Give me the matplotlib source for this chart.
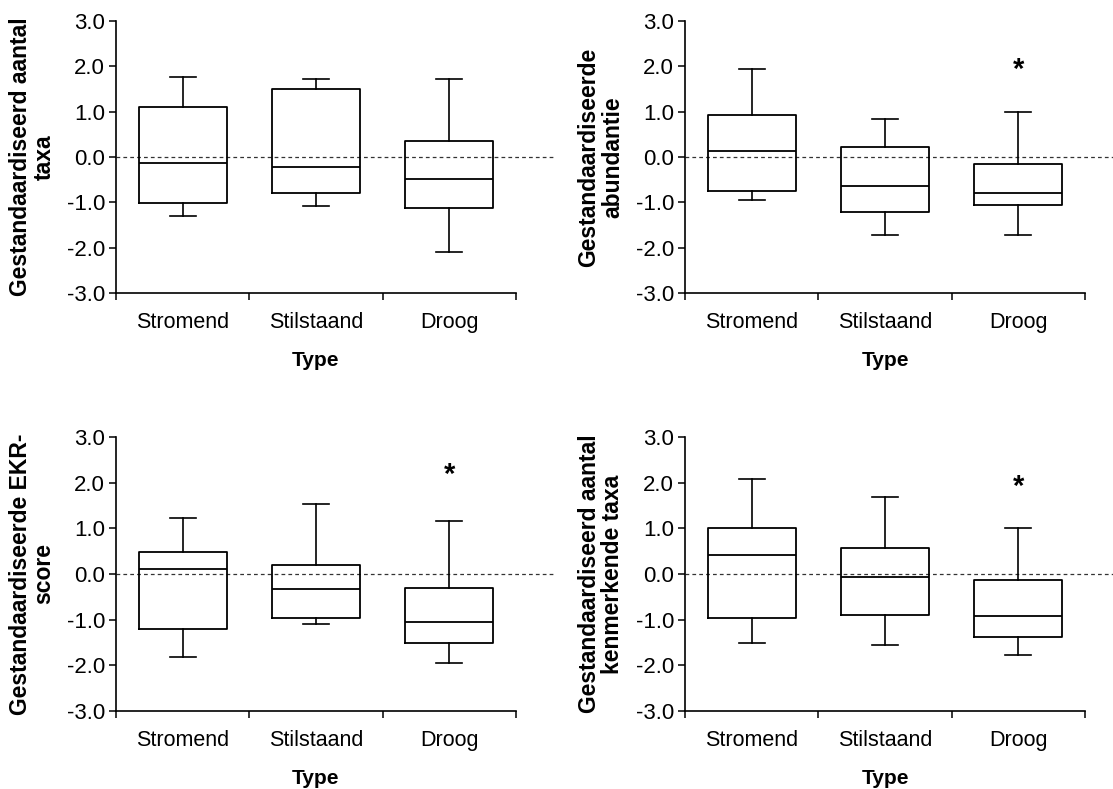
import matplotlib
matplotlib.use('Agg')
from matplotlib import pyplot as plt
from matplotlib.ticker import FixedLocator
from matplotlib.transforms import offset_copy

plt.rcParams['font.family'] = ['Liberation Sans', 'DejaVu Sans']

# Box plot values: whisker low, Q1, median, Q3, whisker high

categories = ['Stromend', 'Stilstaand', 'Droog']

taxa_low = [-1.30, -1.09, -2.09]
taxa_q1 = [-1.02, -0.80, -1.12]
taxa_med = [-0.14, -0.21, -0.48]
taxa_q3 = [1.10, 1.49, 0.36]
taxa_high = [1.77, 1.71, 1.73]

abund_low = [-0.95, -1.73, -1.72]
abund_q1 = [-0.75, -1.21, -1.06]
abund_med = [0.13, -0.64, -0.79]
abund_q3 = [0.93, 0.22, -0.15]
abund_high = [1.94, 0.84, 1.00]

ekr_low = [-1.82, -1.09, -1.94]
ekr_q1 = [-1.21, -0.96, -1.52]
ekr_med = [0.12, -0.32, -1.06]
ekr_q3 = [0.48, 0.19, -0.31]
ekr_high = [1.22, 1.54, 1.15]

kenm_low = [-1.52, -1.55, -1.78]
kenm_q1 = [-0.97, -0.89, -1.37]
kenm_med = [0.42, -0.07, -0.91]
kenm_q3 = [1.00, 0.56, -0.13]
kenm_high = [2.08, 1.68, 1.00]

yticks = [-3, -2, -1, 0, 1, 2, 3]

# significance stars (category index, y)
abund_star = (2, 2.0)
ekr_star = (2, 2.25)
kenm_star = (2, 2.0)

ylabels = ['Gestandaardiseerd aantal\ntaxa',
           'Gestandaardiseerde\nabundantie',
           'Gestandaardiseerde EKR-\nscore',
           'Gestandaardiseerd aantal\nkenmerkende taxa']

panels = [
    (taxa_low, taxa_q1, taxa_med, taxa_q3, taxa_high, None),
    (abund_low, abund_q1, abund_med, abund_q3, abund_high, abund_star),
    (ekr_low, ekr_q1, ekr_med, ekr_q3, ekr_high, ekr_star),
    (kenm_low, kenm_q1, kenm_med, kenm_q3, kenm_high, kenm_star),
]

W, H = 1113, 789
fig = plt.figure(figsize=(W / 100, H / 100), dpi=100)

# axes boxes in pixels: left, top, width, height
boxes = [(116, 21, 400, 272), (685, 21, 400, 272),
         (116, 437, 400, 274), (685, 437, 400, 274)]

for (left, top, w, h), (lo, q1, med, q3, hi, star), ylab in zip(boxes, panels, ylabels):
    ax = fig.add_axes([left / W, 1 - (top + h) / H, w / W, h / H])
    stats = []
    for i in range(len(categories)):
        stats.append({'whislo': lo[i], 'q1': q1[i], 'med': med[i],
                      'q3': q3[i], 'whishi': hi[i], 'fliers': []})
    ax.bxp(stats, positions=[1, 2, 3], widths=0.66, capwidths=0.195,
           showfliers=False, patch_artist=False,
           boxprops=dict(color='k', lw=1.3),
           medianprops=dict(color='k', lw=1.3),
           whiskerprops=dict(color='k', lw=1.2),
           capprops=dict(color='k', lw=1.2))

    ax.axhline(0, xmin=0, xmax=1.1, color='#333333', lw=0.9, ls=(0, (3, 2.5)),
               clip_on=False, zorder=0)

    if star is not None:
        # the asterisk glyph sits high in its box, nudge it down a little
        tr = offset_copy(ax.transData, fig=fig, x=0, y=-4, units='dots')
        ax.text(star[0] + 1, star[1], '*', ha='center', va='center',
                fontsize=21, fontweight='bold', transform=tr)

    ax.set_xlim(0.5, 3.5)
    ax.set_ylim(-3, 3)
    ax.set_yticks(yticks)
    ax.set_yticklabels(['%.1f' % v if v >= 0 else '-%.1f' % -v for v in yticks])

    ax.xaxis.set_major_locator(FixedLocator([0.5, 1.5, 2.5, 3.5]))
    ax.xaxis.set_minor_locator(FixedLocator([1, 2, 3]))
    ax.set_xticklabels([])
    ax.set_xticklabels(categories, minor=True)
    ax.tick_params(axis='x', which='major', length=5, width=1.1, direction='out')
    ax.tick_params(axis='x', which='minor', length=0, pad=14, labelsize=15.5)
    ax.tick_params(axis='y', length=5, width=1.1, direction='out', labelsize=16, pad=3)

    for side in ['top', 'right']:
        ax.spines[side].set_visible(False)
    for side in ['left', 'bottom']:
        ax.spines[side].set_linewidth(1.2)

    ax.set_xlabel('Type', fontsize=15, fontweight='bold', labelpad=13)
    ax.set_ylabel(ylab, fontsize=16.5, fontweight='bold', labelpad=8,
                  linespacing=1.05)

fig.savefig('out.png', dpi=100)
